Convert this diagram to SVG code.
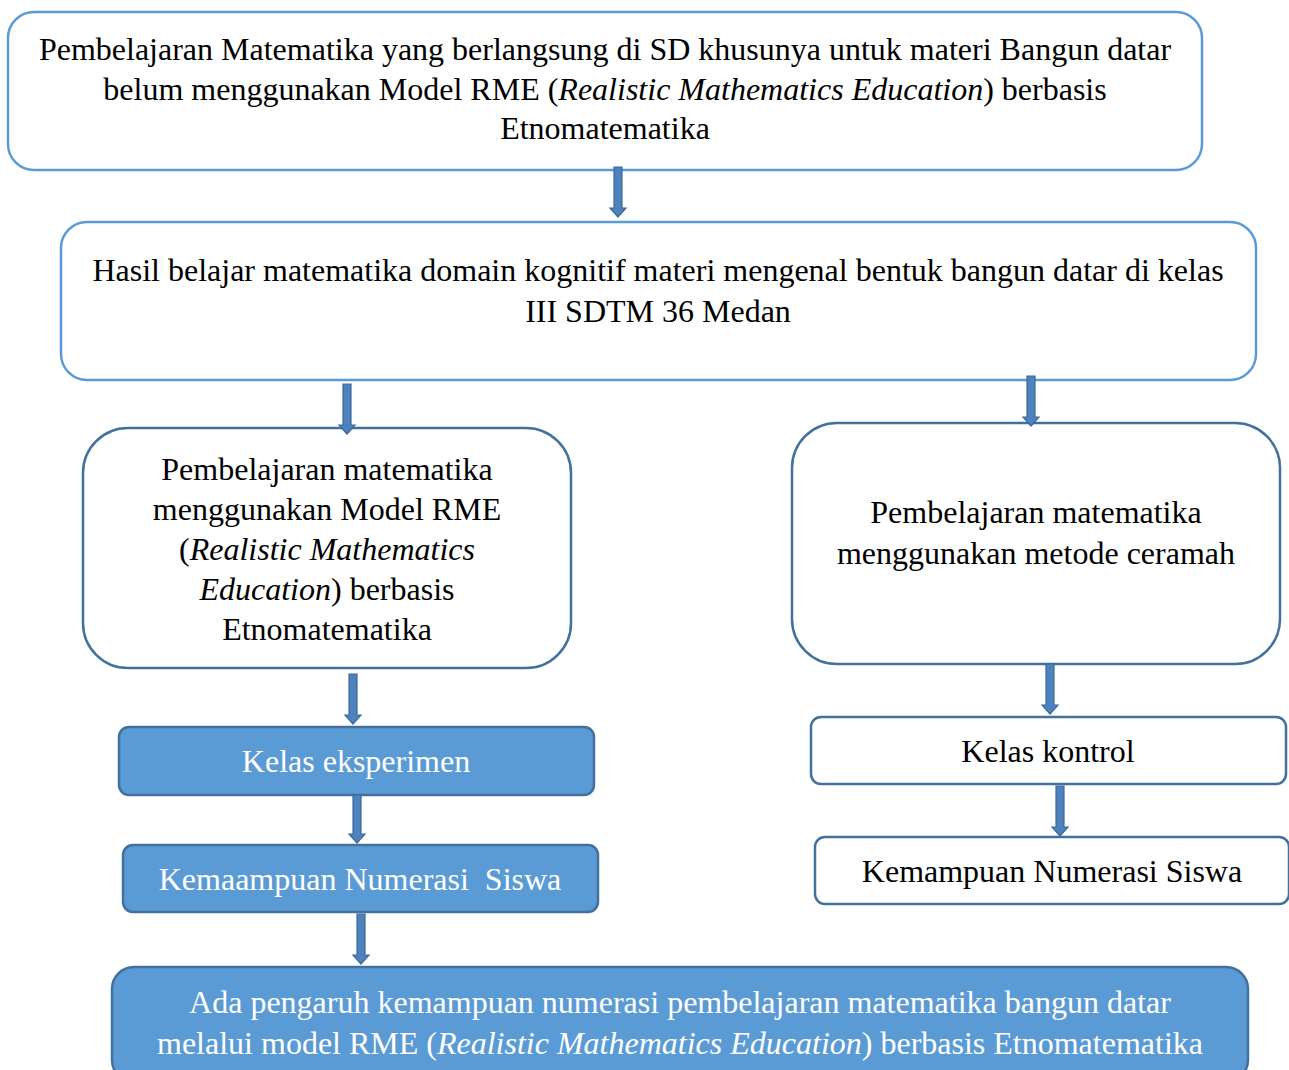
<svg xmlns="http://www.w3.org/2000/svg" width="1289" height="1070" viewBox="0 0 1289 1070">
<defs>
<style>
.t{font-family:"Liberation Serif","Times New Roman",serif;font-size:32px;fill:#000;text-anchor:middle}
.w{fill:#fff}
.bl{fill:#fff;stroke:#5b9bd5;stroke-width:2.5}
.bd{fill:#fff;stroke:#41719c;stroke-width:2.5}
.bf{fill:#5b9bd5;stroke:#41719c;stroke-width:2.5}
.ar{fill:#4f81bd;stroke:#3a6a9c;stroke-width:1.2}
</style>
</defs>
<rect width="1289" height="1070" fill="#fff"/>
<g id="n1">
<rect class="bl" x="8" y="12" width="1194" height="158" rx="26"/>
<text class="t" x="605" y="60">Pembelajaran Matematika yang berlangsung di SD khusunya untuk materi Bangun datar</text>
<text class="t" x="605" y="100">belum menggunakan Model RME (<tspan font-style="italic">Realistic Mathematics Education</tspan>) berbasis</text>
<text class="t" x="605" y="139">Etnomatematika</text>
</g>
<g id="n2">
<rect class="bl" x="61" y="222" width="1195" height="158" rx="26"/>
<text class="t" x="658" y="281">Hasil belajar matematika domain kognitif materi mengenal bentuk bangun datar di kelas</text>
<text class="t" x="658" y="322">III SDTM 36 Medan</text>
</g>
<g id="n3">
<rect class="bd" x="83" y="428" width="488" height="240" rx="45"/>
<text class="t" x="327" y="480">Pembelajaran matematika</text>
<text class="t" x="327" y="520">menggunakan Model RME</text>
<text class="t" x="327" y="560">(<tspan font-style="italic">Realistic Mathematics</tspan></text>
<text class="t" x="327" y="600"><tspan font-style="italic">Education</tspan>) berbasis</text>
<text class="t" x="327" y="640">Etnomatematika</text>
</g>
<g id="n4">
<rect class="bd" x="792" y="423" width="488" height="241" rx="45"/>
<text class="t" x="1036" y="523">Pembelajaran matematika</text>
<text class="t" x="1036" y="564">menggunakan metode ceramah</text>
</g>
<g id="n5">
<rect class="bf" x="119" y="727" width="475" height="68" rx="10"/>
<text class="t w" x="356" y="772">Kelas eksperimen</text>
</g>
<g id="n6">
<rect class="bf" x="123" y="845" width="475" height="67" rx="10"/>
<text class="t w" x="360" y="890" xml:space="preserve">Kemaampuan Numerasi  Siswa</text>
</g>
<g id="n7">
<rect class="bd" x="811" y="717" width="475" height="67" rx="10"/>
<text class="t" x="1048" y="762">Kelas kontrol</text>
</g>
<g id="n8">
<rect class="bd" x="815" y="837" width="474" height="67" rx="10"/>
<text class="t" x="1052" y="882">Kemampuan Numerasi Siswa</text>
</g>
<g id="n9">
<rect class="bf" x="112" y="967" width="1136" height="115" rx="22"/>
<text class="t w" x="680" y="1013">Ada pengaruh kemampuan numerasi pembelajaran matematika bangun datar</text>
<text class="t w" x="680" y="1054">melalui model RME (<tspan font-style="italic">Realistic Mathematics Education</tspan>) berbasis Etnomatematika</text>
</g>
<g id="connectors">
<path class="ar" d="M614,167 H622 V208 H626 L618,217 L610,208 H614 Z"/>
<path class="ar" d="M343,384 H351 V425 H355 L347,434 L339,425 H343 Z"/>
<path class="ar" d="M1027,376 H1035 V417 H1039 L1031,426 L1023,417 H1027 Z"/>
<path class="ar" d="M349,674 H357 V715 H361 L353,724 L345,715 H349 Z"/>
<path class="ar" d="M353,795 H361 V834 H365 L357,843 L349,834 H353 Z"/>
<path class="ar" d="M1046,664 H1054 V705 H1058 L1050,714 L1042,705 H1046 Z"/>
<path class="ar" d="M1056,786 H1064 V827 H1068 L1060,836 L1052,827 H1056 Z"/>
<path class="ar" d="M357,914 H365 V955 H369 L361,964 L353,955 H357 Z"/>
</g>
</svg>
